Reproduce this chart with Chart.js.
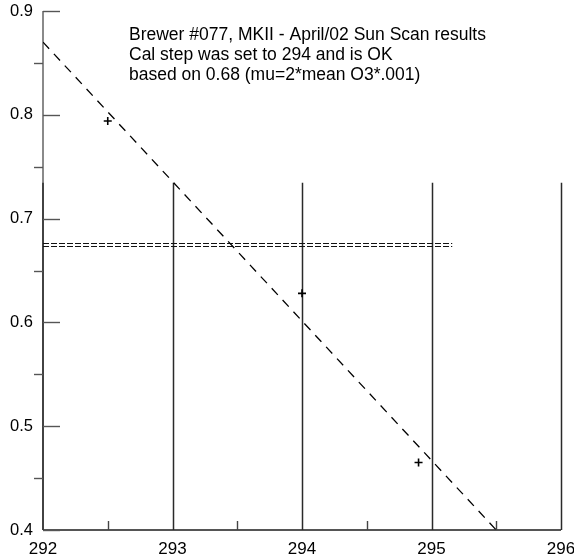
<!DOCTYPE html>
<html><head><meta charset="utf-8">
<style>html,body{margin:0;padding:0;background:#fff}#wrap{width:574px;height:560px}</style>
<script src="https://cdn.jsdelivr.net/npm/chart.js@4"></script>
</head><body><div id="wrap"><canvas id="c" width="574" height="560"></canvas></div>
<script>
const titleLines = ["Brewer #077, MKII - April/02 Sun Scan results", "Cal step was set to 294 and is OK", "based on 0.68 (mu=2*mean O3*.001)"];
const scanSteps = [292.5, 294.0, 294.9];
const scanValues = [0.794, 0.628, 0.465];
const fitSteps = [292, 295.5];
const fitValues = [0.870, 0.400];
const refSteps = [292, 295.16];
const refUpper = [0.676, 0.676];
const refLower = [0.6731, 0.6731];
const xTicks = [292, 293, 294, 295, 296];
const xMinorTicks = [292.5, 293.5, 294.5, 295.5];
const yTicks = [0.4, 0.5, 0.6, 0.7, 0.8, 0.9];
const yMinorTicks = [0.45, 0.55, 0.65, 0.75, 0.85];
const stepLineTop = 0.7345;

const FONT = '"Liberation Sans", Arial, Helvetica, sans-serif';
const pts = (xs, ys) => xs.map((v, i) => ({x: v, y: ys[i]}));

const axesPlugin = {
  id: 'axesDraw',
  beforeDatasetsDraw(chart) {
    const {ctx, scales: {x, y}} = chart;
    const xl = x.getPixelForValue(x.min), xr = x.getPixelForValue(x.max);
    const yb = y.getPixelForValue(y.min), yt = y.getPixelForValue(y.max);
    ctx.save();
    ctx.strokeStyle = '#8a8a8a'; ctx.lineWidth = 2;
    ctx.beginPath(); ctx.moveTo(xl, yt); ctx.lineTo(xl, yb); ctx.stroke();
    ctx.strokeStyle = '#555'; ctx.lineWidth = 2;
    ctx.beginPath(); ctx.moveTo(xl, yb); ctx.lineTo(xr, yb); ctx.stroke();
    ctx.strokeStyle = '#2a2a2a'; ctx.lineWidth = 1.5;
    const ys = y.getPixelForValue(stepLineTop);
    xTicks.forEach(v => {
      const px = Math.round(x.getPixelForValue(v)) + (v === x.min ? 0 : 0.5);
      ctx.beginPath(); ctx.moveTo(px, yb); ctx.lineTo(px, ys); ctx.stroke();
    });
    ctx.strokeStyle = '#444'; ctx.lineWidth = 1.4;
    xMinorTicks.forEach(v => {
      const px = Math.round(x.getPixelForValue(v)) + 0.5;
      ctx.beginPath(); ctx.moveTo(px, yb); ctx.lineTo(px, yb - 9); ctx.stroke();
    });
    ctx.strokeStyle = '#555'; ctx.lineWidth = 1.4;
    yTicks.forEach(v => {
      const py = Math.round(y.getPixelForValue(v)) + 0.5;
      ctx.beginPath(); ctx.moveTo(xl, py); ctx.lineTo(xl + 17, py); ctx.stroke();
    });
    yMinorTicks.forEach(v => {
      const py = Math.round(y.getPixelForValue(v)) + 0.5;
      ctx.beginPath(); ctx.moveTo(xl - 9, py); ctx.lineTo(xl, py); ctx.stroke();
    });
    ctx.restore();
  },
  afterDraw(chart) {
    const {ctx} = chart;
    ctx.save();
    ctx.fillStyle = '#000';
    ctx.font = '17.5px ' + FONT;
    ctx.textAlign = 'left';
    ctx.textBaseline = 'alphabetic';
    titleLines.forEach((t, i) => ctx.fillText(t, 129, 40 + i * 20));
    ctx.restore();
  }
};

new Chart(document.getElementById('c'), {
  type: 'scatter',
  data: {
    datasets: [
      {data: pts(scanSteps, scanValues), pointStyle: 'cross', pointRadius: 4, borderColor: '#000', borderWidth: 1.6, showLine: false},
      {data: pts(fitSteps, fitValues), showLine: true, borderColor: '#000', borderWidth: 1.3, borderDash: [9, 7], pointRadius: 0},
      {data: pts(refSteps, refUpper), showLine: true, borderColor: '#111', borderWidth: 1.2, borderDash: [6, 2], pointRadius: 0},
      {data: pts(refSteps, refLower), showLine: true, borderColor: '#111', borderWidth: 1.2, borderDash: [6, 2], pointRadius: 0}
    ]
  },
  options: {
    responsive: false,
    animation: false,
    devicePixelRatio: 1,
    layout: {padding: {top: 11, right: 13, bottom: 0, left: 0}},
    plugins: {legend: {display: false}, tooltip: {enabled: false}},
    scales: {
      x: {
        type: 'linear', min: 292, max: 296,
        grid: {display: false, drawTicks: false},
        border: {display: false},
        afterBuildTicks: s => { s.ticks = xTicks.map(v => ({value: v})); },
        ticks: {padding: 9, color: '#000', font: {family: FONT, size: 17}, callback: v => String(v)},
        afterFit: s => { s.height = 30; s.paddingLeft = 0; s.paddingRight = 0; }
      },
      y: {
        type: 'linear', min: 0.4, max: 0.9,
        grid: {display: false, drawTicks: false},
        border: {display: false},
        afterBuildTicks: s => { s.ticks = yTicks.map(v => ({value: v})); },
        ticks: {padding: 10, color: '#000', font: {family: FONT, size: 16.5}, callback: v => Number(v).toFixed(1)},
        afterFit: s => { s.width = 43; s.paddingTop = 0; s.paddingBottom = 0; }
      }
    }
  },
  plugins: [axesPlugin]
});
</script>
</body></html>
